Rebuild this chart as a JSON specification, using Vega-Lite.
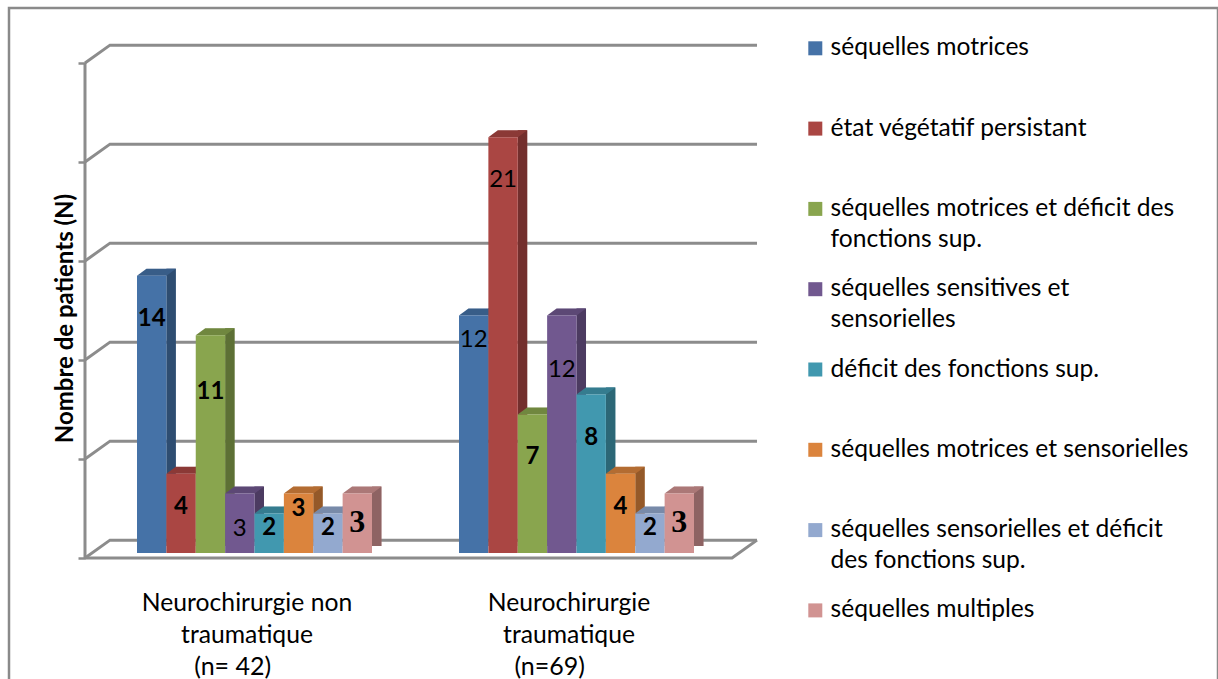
{
"$schema":"https://vega.github.io/schema/vega-lite/v6.json",
"width":1209,"height":673,
"autosize":{"type":"none"},
"padding":{"left":9,"top":8,"right":0,"bottom":0},
"background":"white",
"config":{"view":{"stroke":"#8a8a8a","strokeWidth":2.5}},
"datasets":{
"bars":[
{"id":"A1","groupe":"Neurochirurgie non|traumatique","effectif":"(n= 42)","serie":"séquelles motrices","n":14},
{"id":"A2","groupe":"Neurochirurgie non|traumatique","effectif":"(n= 42)","serie":"état végétatif persistant","n":4},
{"id":"A3","groupe":"Neurochirurgie non|traumatique","effectif":"(n= 42)","serie":"séquelles motrices et déficit des|fonctions sup.","n":11},
{"id":"A4","groupe":"Neurochirurgie non|traumatique","effectif":"(n= 42)","serie":"séquelles sensitives et|sensorielles","n":3},
{"id":"A5","groupe":"Neurochirurgie non|traumatique","effectif":"(n= 42)","serie":"déficit des fonctions sup.","n":2},
{"id":"A6","groupe":"Neurochirurgie non|traumatique","effectif":"(n= 42)","serie":"séquelles motrices et sensorielles","n":3},
{"id":"A7","groupe":"Neurochirurgie non|traumatique","effectif":"(n= 42)","serie":"séquelles sensorielles et déficit|des fonctions sup.","n":2},
{"id":"A8","groupe":"Neurochirurgie non|traumatique","effectif":"(n= 42)","serie":"séquelles multiples","n":3},
{"id":"B1","groupe":"Neurochirurgie|traumatique","effectif":"(n=69)","serie":"séquelles motrices","n":12},
{"id":"B2","groupe":"Neurochirurgie|traumatique","effectif":"(n=69)","serie":"état végétatif persistant","n":21},
{"id":"B3","groupe":"Neurochirurgie|traumatique","effectif":"(n=69)","serie":"séquelles motrices et déficit des|fonctions sup.","n":7},
{"id":"B4","groupe":"Neurochirurgie|traumatique","effectif":"(n=69)","serie":"séquelles sensitives et|sensorielles","n":12},
{"id":"B5","groupe":"Neurochirurgie|traumatique","effectif":"(n=69)","serie":"déficit des fonctions sup.","n":8},
{"id":"B6","groupe":"Neurochirurgie|traumatique","effectif":"(n=69)","serie":"séquelles motrices et sensorielles","n":4},
{"id":"B7","groupe":"Neurochirurgie|traumatique","effectif":"(n=69)","serie":"séquelles sensorielles et déficit|des fonctions sup.","n":2},
{"id":"B8","groupe":"Neurochirurgie|traumatique","effectif":"(n=69)","serie":"séquelles multiples","n":3}
],
"walls":[
{"wall":"floorback","pos":0.4736,"level":-0.25},{"wall":"floorback","pos":0.5512,"level":0.65},{"wall":"floorback","pos":2.5606,"level":0.65},
{"wall":"floorfront","pos":0.4736,"level":-0.25},{"wall":"floorfront","pos":2.4829,"level":-0.25},{"wall":"floorfront","pos":2.5606,"level":0.65},
{"wall":"left","pos":0.4736,"level":-0.25},{"wall":"left","pos":0.4736,"level":24.75},
{"wall":"g5","pos":0.4736,"level":4.75},{"wall":"g5","pos":0.5512,"level":5.65},{"wall":"g5","pos":2.5606,"level":5.65},
{"wall":"g10","pos":0.4736,"level":9.75},{"wall":"g10","pos":0.5512,"level":10.65},{"wall":"g10","pos":2.5606,"level":10.65},
{"wall":"g15","pos":0.4736,"level":14.75},{"wall":"g15","pos":0.5512,"level":15.65},{"wall":"g15","pos":2.5606,"level":15.65},
{"wall":"g20","pos":0.4736,"level":19.75},{"wall":"g20","pos":0.5512,"level":20.65},{"wall":"g20","pos":2.5606,"level":20.65},
{"wall":"g25","pos":0.4736,"level":24.75},{"wall":"g25","pos":0.5512,"level":25.65},{"wall":"g25","pos":2.5606,"level":25.65}
]
},
"resolve":{"scale":{"x":"independent"}},
"layer":[
{
"data":{"name":"walls"},
"mark":{"type":"line","color":"#8c8c8c","strokeWidth":3,"strokeJoin":"miter"},
"encoding":{
"x":{"field":"pos","type":"quantitative","axis":null,"scale":{"domain":[1,2],"range":[245.5,567.5],"zero":false,"nice":false}},
"y":{"field":"level","type":"quantitative","scale":{"domain":[0,25],"range":[545,50],"nice":false,"zero":false},
"axis":{"title":"Nombre de patients (N)","titleFont":"Lato","titleFontSize":24,"titleFontWeight":"bold","titleColor":"black","titlePadding":-1,"titleY":310,"labels":false,"domain":false,"grid":false,"values":[0,5,10,15,20,25],"ticks":true,"tickSize":7,"tickWidth":2.5,"tickColor":"#8c8c8c","tickOffset":5,"offset":-76}},
"detail":{"field":"wall"}
}
},
{
"data":{"name":"bars"},
"resolve":{"scale":{"xOffset":"independent"}},
"encoding":{
"x":{"field":"groupe","type":"nominal","sort":null,"scale":{"type":"band","range":[84.5,728.5],"paddingInner":0.2702,"paddingOuter":0.1351},
"axis":{"title":null,"domain":false,"ticks":false,"labelAngle":0,"labelAlign":"center","labelBaseline":"top","labelFont":"Lato","labelFontSize":24.7,"labelLimit":500,"labelColor":"black","labelLineHeight":32,"labelOffset":-7.5,"labelPadding":0,"offset":-91,"labelExpr":"split(datum.label,'|')"}},
"xOffset":{"field":"serie","type":"nominal","sort":null,"scale":{"domain":["séquelles motrices","état végétatif persistant","séquelles motrices et déficit des|fonctions sup.","séquelles sensitives et|sensorielles","déficit des fonctions sup.","séquelles motrices et sensorielles","séquelles sensorielles et déficit|des fonctions sup.","séquelles multiples"]}},
"y":{"field":"n","type":"quantitative","axis":{"title":"Nombre de patients (N)","titleFont":"Lato","titleFontSize":24,"titleFontWeight":"bold","titleColor":"black","titlePadding":-1,"titleY":310,"labels":false,"domain":false,"grid":false,"values":[0,5,10,15,20,25],"ticks":true,"tickSize":7,"tickWidth":2.5,"tickColor":"#8c8c8c","tickOffset":5,"offset":-76}},
"color":{"field":"serie","type":"nominal","sort":null,
"scale":{"domain":["séquelles motrices","état végétatif persistant","séquelles motrices et déficit des|fonctions sup.","séquelles sensitives et|sensorielles","déficit des fonctions sup.","séquelles motrices et sensorielles","séquelles sensorielles et déficit|des fonctions sup.","séquelles multiples"],"range":["#4572a7","#aa4643","#89a54e","#71588f","#4198af","#db843d","#93a9cf","#d19392"]},
"legend":{"title":null,"orient":"none","legendX":794,"legendY":28,"symbolType":"square","symbolSize":196,"symbolStrokeWidth":0,"labelFont":"Lato","labelFontSize":24.6,"labelColor":"black","labelLimit":500,"labelOffset":3,"rowPadding":24.3,"labelExpr":"[split(datum.label,'|')[0],split(datum.label,'|')[1]||'']","encoding":{"labels":{"lineHeight":{"value":31}}}}}
},
"layer":[
{"mark":{"type":"rule","strokeWidth":9.5,"yOffset":-7,"y2Offset":-7},
"encoding":{"xOffset":{"field":"serie","type":"nominal","sort":null,"scale":{"domain":["séquelles motrices","état végétatif persistant","séquelles motrices et déficit des|fonctions sup.","séquelles sensitives et|sensorielles","déficit des fonctions sup.","séquelles motrices et sensorielles","séquelles sensorielles et déficit|des fonctions sup.","séquelles multiples"],"range":[19.45,254.45]}},"y2":{"datum":0}}},
{"mark":{"type":"rule","strokeWidth":9.5,"yOffset":-7,"y2Offset":-7,"opacity":0.32},
"encoding":{"xOffset":{"field":"serie","type":"nominal","sort":null,"scale":{"domain":["séquelles motrices","état végétatif persistant","séquelles motrices et déficit des|fonctions sup.","séquelles sensitives et|sensorielles","déficit des fonctions sup.","séquelles motrices et sensorielles","séquelles sensorielles et déficit|des fonctions sup.","séquelles multiples"],"range":[19.45,254.45]}},"y2":{"datum":0},"color":{"value":"black"}}},
{"mark":{"type":"point","filled":true,"size":4,"opacity":1,"strokeWidth":0,"shape":"M-14.7,0L14.7,0L24.2,-7L-5.2,-7Z"}},
{"mark":{"type":"point","filled":true,"size":4,"opacity":0.18,"strokeWidth":0,"shape":"M-14.7,0L14.7,0L24.2,-7L-5.2,-7Z"},"encoding":{"color":{"value":"black"}}},
{"mark":{"type":"bar"}},
{"transform":[{"filter":{"field":"id","oneOf":["A5","A6","A7","B7"]}}],"mark":{"type":"text","font":"Lato","fontWeight":"bold","fontSize":24,"dy":15},"encoding":{"color":{"value":"black"},"text":{"field":"n","type":"quantitative"}}},
{"transform":[{"filter":{"field":"id","oneOf":["A2","B6"]}}],"mark":{"type":"text","font":"Lato","fontWeight":"bold","fontSize":24,"dy":33},"encoding":{"color":{"value":"black"},"text":{"field":"n","type":"quantitative"}}},
{"transform":[{"filter":{"field":"id","oneOf":["A1","B3","B5"]}}],"mark":{"type":"text","font":"Lato","fontWeight":"bold","fontSize":24,"dy":43},"encoding":{"color":{"value":"black"},"text":{"field":"n","type":"quantitative"}}},
{"transform":[{"filter":{"field":"id","oneOf":["A3"]}}],"mark":{"type":"text","font":"Lato","fontWeight":"bold","fontSize":24,"dy":57},"encoding":{"color":{"value":"black"},"text":{"field":"n","type":"quantitative"}}},
{"transform":[{"filter":{"field":"id","oneOf":["A4"]}}],"mark":{"type":"text","font":"Lato","fontSize":24,"dy":35},"encoding":{"color":{"value":"black"},"text":{"field":"n","type":"quantitative"}}},
{"transform":[{"filter":{"field":"id","oneOf":["B1"]}}],"mark":{"type":"text","font":"Lato","fontSize":24,"dy":25},"encoding":{"color":{"value":"black"},"text":{"field":"n","type":"quantitative"}}},
{"transform":[{"filter":{"field":"id","oneOf":["B2"]}}],"mark":{"type":"text","font":"Lato","fontSize":24,"dy":43},"encoding":{"color":{"value":"black"},"text":{"field":"n","type":"quantitative"}}},
{"transform":[{"filter":{"field":"id","oneOf":["B4"]}}],"mark":{"type":"text","font":"Lato","fontSize":24,"dy":55},"encoding":{"color":{"value":"black"},"text":{"field":"n","type":"quantitative"}}},
{"transform":[{"filter":{"field":"id","oneOf":["A8","B8"]}}],"mark":{"type":"text","font":"Liberation Serif","fontWeight":"bold","fontSize":32,"dy":28},"encoding":{"color":{"value":"black"},"text":{"field":"n","type":"quantitative"}}},
{"transform":[{"filter":{"field":"id","oneOf":["A1"]}}],"mark":{"type":"text","font":"Lato","fontSize":25,"dx":81,"dy":391},"encoding":{"color":{"value":"black"},"text":{"field":"effectif","type":"nominal"}}},
{"transform":[{"filter":{"field":"id","oneOf":["B1"]}}],"mark":{"type":"text","font":"Lato","fontSize":25,"dx":76,"dy":352},"encoding":{"color":{"value":"black"},"text":{"field":"effectif","type":"nominal"}}}
]
}
]
}
